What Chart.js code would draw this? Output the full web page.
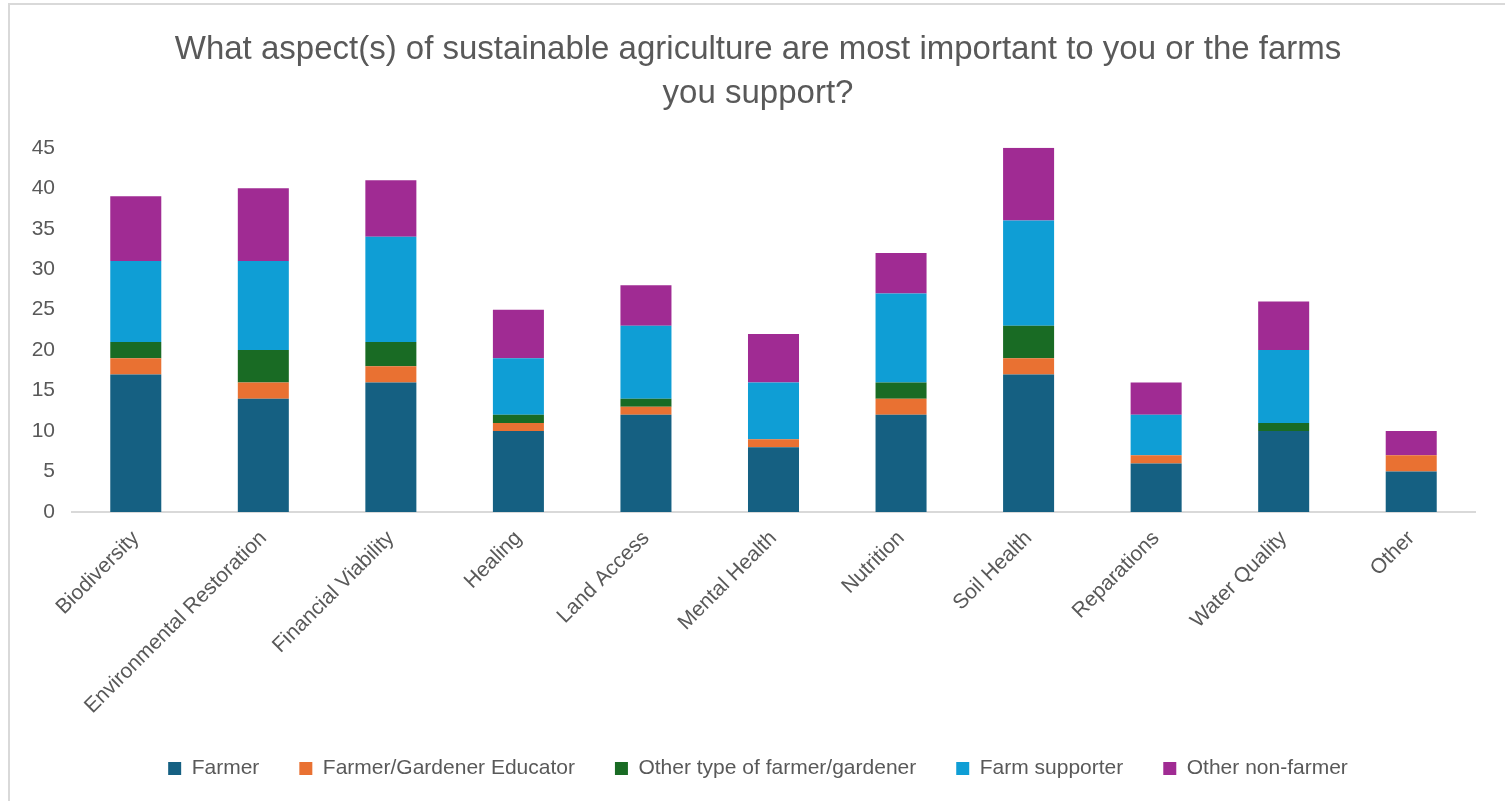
<!DOCTYPE html>
<html>
<head>
<meta charset="utf-8">
<script src="https://cdn.jsdelivr.net/npm/chart.js@4"></script>
<style>
  html, body { margin: 0; padding: 0; background: #fff; }
  #frame { position: absolute; left: 8px; top: 3px; width: 1520px; height: 820px;
           border-left: 2px solid #d9d9d9; border-top: 2px solid #d9d9d9; }
  #chart { position: absolute; left: 0; top: 0; }
</style>
</head>
<body>
<div id="frame"></div>
<canvas id="chart" width="1505" height="801"></canvas>
<script>
// ── Data ──────────────────────────────────────────────────────────────────────
const categories = [
  "Biodiversity", "Environmental Restoration", "Financial Viability", "Healing",
  "Land Access", "Mental Health", "Nutrition", "Soil Health", "Reparations",
  "Water Quality", "Other",
];
const farmer          = [17, 14, 16, 10, 12, 8, 12, 17, 6, 10, 5];
const educator        = [ 2,  2,  2,  1,  1, 1,  2,  2, 1,  0, 2];
const otherFarmer     = [ 2,  4,  3,  1,  1, 0,  2,  4, 0,  1, 0];
const farmSupporter   = [10, 11, 13,  7,  9, 7, 11, 13, 5,  9, 0];
const otherNonFarmer  = [ 8,  9,  7,  6,  5, 6,  5,  9, 4,  6, 3];
const yTicks = [0, 5, 10, 15, 20, 25, 30, 35, 40, 45];

// ── Look ──────────────────────────────────────────────────────────────────────
const TEXT = "#595959";
const FONT = "'Liberation Sans', Arial, sans-serif";

function ds(label, data, color) {
  return {
    label, data,
    backgroundColor: color,
    borderWidth: 0,
    categoryPercentage: 1.0,
    barPercentage: 0.4,
  };
}

// y labels sit left of the padded box; widen the label clip area after layout
const widenYAxis = {
  id: "widenYAxis",
  afterLayout(chart) { chart.scales.y.left = 0; },
};

new Chart(document.getElementById("chart"), {
  type: "bar",
  data: {
    labels: categories,
    datasets: [
      ds("Farmer", farmer, "#156082"),
      ds("Farmer/Gardener Educator", educator, "#E97132"),
      ds("Other type of farmer/gardener", otherFarmer, "#196B24"),
      ds("Farm supporter", farmSupporter, "#0F9ED5"),
      ds("Other non-farmer", otherNonFarmer, "#A02B93"),
    ],
  },
  plugins: [widenYAxis],
  options: {
    responsive: false,
    animation: false,
    layout: { padding: { left: 41, right: 30, top: 0, bottom: 12 } },
    plugins: {
      title: {
        display: true,
        text: ["What aspect(s) of sustainable agriculture are most important to you or the farms",
               "you support?"],
        color: TEXT,
        font: { family: FONT, size: 33, weight: "normal", lineHeight: 1.33 },
        padding: { top: 28, bottom: 32 },
      },
      legend: {
        position: "bottom",
        labels: {
          color: TEXT,
          font: { family: FONT, size: 21 },
          boxWidth: 13, boxHeight: 13,
          padding: 40,
        },
      },
      tooltip: { enabled: false },
    },
    scales: {
      x: {
        stacked: true,
        grid: { display: false },
        border: { display: true, color: "#d9d9d9", width: 2 },
        ticks: {
          color: TEXT, font: { family: FONT, size: 21 },
          minRotation: 45, maxRotation: 45, padding: 6,
        },
        afterFit: (scale) => { scale.height = 206; },
      },
      y: {
        stacked: true,
        min: 0, max: 45,
        grid: { display: false },
        border: { display: false },
        afterBuildTicks: (scale) => { scale.ticks = yTicks.map(v => ({ value: v })); },
        ticks: { color: TEXT, font: { family: FONT, size: 21 }, padding: 9 },
        afterFit: (scale) => { scale.width = 31; },
      },
    },
  },
});
</script>
</body>
</html>
